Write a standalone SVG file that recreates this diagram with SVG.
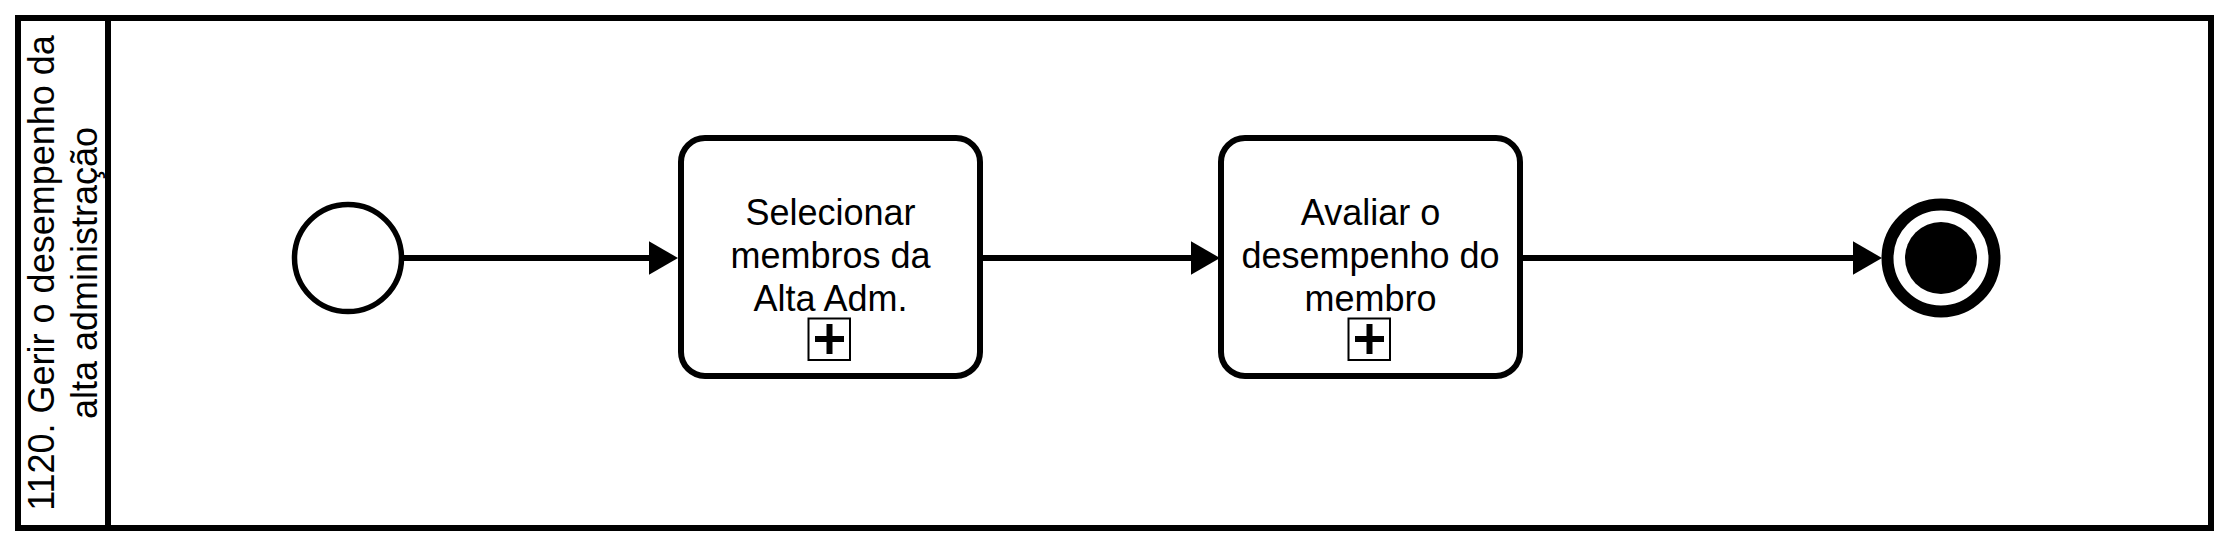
<svg xmlns="http://www.w3.org/2000/svg" width="2229" height="546" viewBox="0 0 2229 546">
  <style>
    .lbl { font-family: "Liberation Sans", Arial, sans-serif; font-size: 36px; fill: #000; text-anchor: middle; }
    .task { fill: #fff; stroke: #000; stroke-width: 6; }
    .flow { stroke: #000; stroke-width: 6; fill: none; }
    .lane { fill: #fff; stroke: #000; stroke-width: 6; }
    .mk { fill: #fff; stroke: #000; stroke-width: 2; }
    .plus { stroke: #000; stroke-width: 6; fill: none; }
  </style>
  <defs>
    <marker id="arrow" markerUnits="userSpaceOnUse" markerWidth="30" markerHeight="34" refX="0" refY="16.7" orient="auto" overflow="visible">
      <path d="M0,0 L29,16.7 L0,33.4 Z" fill="#000"/>
    </marker>
  </defs>
  <rect width="2229" height="546" fill="#fff"/>
  <g id="pool">
    <rect class="lane" x="18" y="18" width="2193" height="510"/>
    <line x1="108" y1="18" x2="108" y2="528" stroke="#000" stroke-width="6"/>
    <text class="lbl" transform="translate(63,273) rotate(-90)"><tspan x="0" y="-9">1120. Gerir o desempenho da</tspan><tspan x="0" y="34">alta administração</tspan></text>
  </g>
  <g id="connectors">
    <line class="flow" x1="404" y1="258" x2="649" y2="258" marker-end="url(#arrow)"/>
    <line class="flow" x1="980" y1="258" x2="1191" y2="258" marker-end="url(#arrow)"/>
    <line class="flow" x1="1520" y1="258" x2="1853" y2="258" marker-end="url(#arrow)"/>
  </g>
  <g id="start">
    <circle cx="348" cy="258" r="53.5" fill="#fff" stroke="#000" stroke-width="5.5"/>
  </g>
  <g id="task1">
    <rect class="task" x="681" y="138" width="299" height="238" rx="24" ry="24"/>
    <text class="lbl"><tspan x="830.5" y="225">Selecionar</tspan><tspan x="830.5" y="268">membros da</tspan><tspan x="830.5" y="311">Alta Adm.</tspan></text>
    <rect class="mk" x="808.5" y="318.5" width="41.5" height="41.5"/>
    <path class="plus" d="M815,339 H844 M829.5,324 V354"/>
  </g>
  <g id="task2">
    <rect class="task" x="1221" y="138" width="299" height="238" rx="24" ry="24"/>
    <text class="lbl"><tspan x="1370.5" y="225">Avaliar o</tspan><tspan x="1370.5" y="268">desempenho do</tspan><tspan x="1370.5" y="311">membro</tspan></text>
    <rect class="mk" x="1348.5" y="318.5" width="41.5" height="41.5"/>
    <path class="plus" d="M1355,339 H1384 M1369.5,324 V354"/>
  </g>
  <g id="end">
    <circle cx="1941" cy="258" r="53.5" fill="#fff" stroke="#000" stroke-width="12"/>
    <circle cx="1941" cy="258" r="36" fill="#000"/>
  </g>
</svg>
